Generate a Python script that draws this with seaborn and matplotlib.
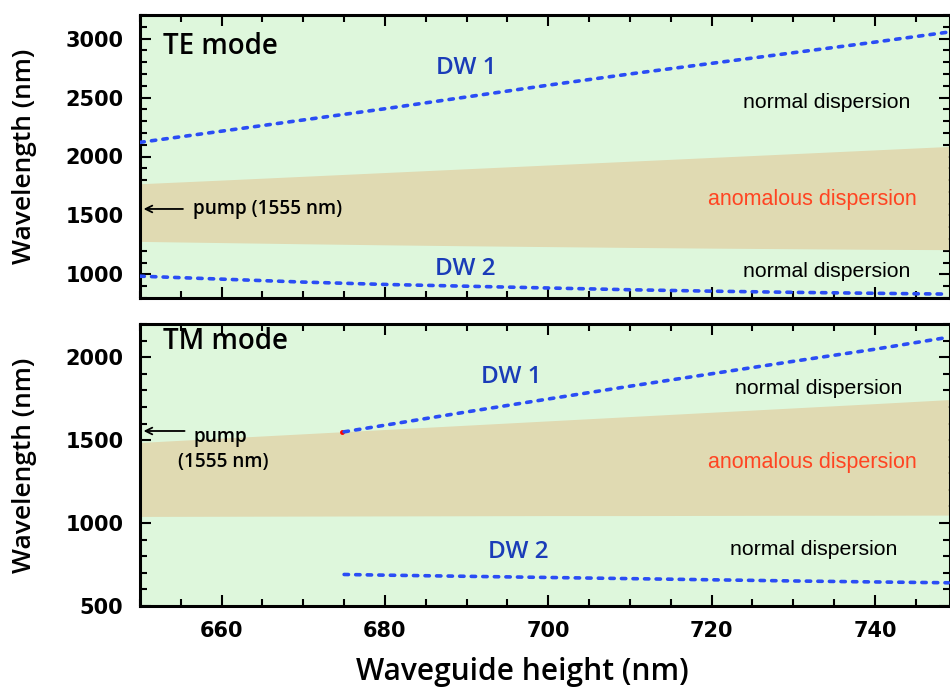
import numpy as np
import pandas as pd
import matplotlib
matplotlib.use("Agg")
import matplotlib.pyplot as plt
import seaborn as sns

# ---------------- data ----------------
te_h = [650, 660, 670, 680, 690, 700, 710, 720, 730, 740, 749]
te_dw1 = [2120, 2215, 2310, 2405, 2505, 2605, 2700, 2790, 2880, 2970, 3055]
te_dw2 = [985, 960, 935, 915, 900, 885, 870, 858, 848, 840, 833]
te_anom_upper = [1769, 1800, 1832, 1864, 1896, 1928, 1960, 1992, 2024, 2056, 2085]
te_anom_lower = [1280, 1270, 1260, 1251, 1243, 1236, 1229, 1223, 1218, 1213, 1210]

tm_h_band = [650, 660, 670, 680, 690, 700, 710, 720, 730, 740, 749]
tm_anom_upper = [1486, 1512, 1538, 1564, 1590, 1616, 1642, 1668, 1694, 1720, 1744]
tm_anom_lower = [1040, 1041, 1042, 1043, 1044, 1045, 1045, 1046, 1047, 1047, 1048]

tm_h = [675, 680, 690, 700, 710, 720, 730, 740, 749]
tm_dw1 = [1550, 1590, 1670, 1748, 1825, 1900, 1975, 2048, 2120]
tm_dw2 = [690, 686, 679, 672, 665, 658, 651, 645, 640]

pump_nm = 1555
xticks = [660, 680, 700, 720, 740]

# ---------------- style ----------------
sns.set_theme(style="ticks")
plt.rcParams['font.family'] = ['Liberation Sans', 'DejaVu Sans']
plt.rcParams['text.color'] = 'black'
plt.rcParams['axes.labelcolor'] = 'black'
plt.rcParams['xtick.color'] = 'black'
plt.rcParams['ytick.color'] = 'black'
plt.rcParams['xtick.labelcolor'] = 'black'
plt.rcParams['ytick.labelcolor'] = 'black'

GREEN = "#DEF7DC"
TAN = "#E0DAB2"
BLUE = "#2A4DF5"
LABBLUE = "#1A3CB8"
ORANGE = "#FF4422"
LABFONT = ['Open Sans', 'DejaVu Sans']
TICKFONT = ['DejaVu Sans']

fig = plt.figure(figsize=(9.5, 6.88), dpi=100)
ax1 = fig.add_axes([140/950, 1-298/688, 810/950, 283/688])
ax2 = fig.add_axes([140/950, 1-606/688, 810/950, 282/688])

te_df = pd.DataFrame({"h": te_h, "dw1": te_dw1, "dw2": te_dw2})
tm_df = pd.DataFrame({"h": tm_h, "dw1": tm_dw1, "dw2": tm_dw2})

DASH = (0, (1.2, 2.0))

for ax in (ax1, ax2):
    ax.set_facecolor(GREEN)

ax1.fill_between(te_h, te_anom_lower, te_anom_upper, color=TAN, lw=0, zorder=1)
ax2.fill_between(tm_h_band, tm_anom_lower, tm_anom_upper, color=TAN, lw=0, zorder=1)

for col in ("dw1", "dw2"):
    sns.lineplot(data=te_df, x="h", y=col, ax=ax1, legend=False, zorder=3,
                 color=BLUE, linewidth=2.6, linestyle=DASH, dash_capstyle='round')
    sns.lineplot(data=tm_df, x="h", y=col, ax=ax2, legend=False, zorder=3,
                 color=BLUE, linewidth=2.6, linestyle=DASH, dash_capstyle='round')

ax2.plot([tm_h[0] - 0.2], [tm_dw1[0] - 3], marker='o', ms=3.5, color='red', mec='none', zorder=2)

ax1.set_ylim(800, 3200)
ax2.set_ylim(500, 2200)
for ax in (ax1, ax2):
    ax.set_xlim(650, 749.2)
    ax.set_xticks(xticks)
    ax.set_xticks(np.arange(650, 750, 5), minor=True)
    ax.tick_params(which='both', direction='in', top=True, right=True, width=1.5, color='black')
    ax.tick_params(which='major', length=8)
    ax.tick_params(which='minor', length=5)
    ax.tick_params(axis='y', which='major', labelsize=15, pad=12)
    ax.tick_params(axis='x', which='major', labelsize=15, pad=11)
    for s in ax.spines.values():
        s.set_linewidth(2.2)
        s.set_color('black')
    ax.set_xlabel("")

ax1.set_yticks([1000, 1500, 2000, 2500, 3000])
ax1.set_yticks(np.arange(800, 3201, 100), minor=True)
ax2.set_yticks([500, 1000, 1500, 2000])
ax2.set_yticks(np.arange(500, 2201, 100), minor=True)
ax1.tick_params(axis='x', labelbottom=False)

for ax in (ax1, ax2):
    for lab in ax.get_xticklabels() + ax.get_yticklabels():
        lab.set_fontfamily(TICKFONT)
        lab.set_fontweight('bold')
    ax.set_ylabel("Wavelength (nm)", fontsize=19, fontfamily=LABFONT, fontweight='semibold', color='black')
    ax.yaxis.set_label_coords(-0.127, 0.5)
ax2.set_xlabel("Waveguide height (nm)", fontsize=21.5, fontfamily=LABFONT, fontweight='semibold', color='black')
ax2.xaxis.set_label_coords(0.4716, -0.235)
ax2.xaxis.label.set_va('center')

# ---------------- annotations ----------------
ND = 15.3
ax1.text(652.8, 2935, "TE mode", fontsize=20, fontfamily=LABFONT, fontweight='semibold', va='center', ha='left')
ax1.text(689.9, 2748, "DW 1", fontsize=17.5, fontfamily=LABFONT, fontweight='semibold', color=LABBLUE, va='center', ha='center')
ax1.text(689.8, 1042, "DW 2", fontsize=17.5, fontfamily=LABFONT, fontweight='semibold', color=LABBLUE, va='center', ha='center')
ax1.text(744.3, 2459, "normal dispersion", fontsize=ND, va='center', ha='right')
ax1.text(745.1, 1636, "anomalous dispersion", fontsize=15.5, color=ORANGE, va='center', ha='right')
ax1.text(744.3, 1025, "normal dispersion", fontsize=ND, va='center', ha='right')
ax1.annotate("", xy=(650.1, pump_nm), xytext=(655.6, pump_nm),
             arrowprops=dict(arrowstyle='->', color='black', lw=1.3))
ax1.text(656.5, pump_nm, "pump (1555 nm)", fontsize=13.7, fontfamily=LABFONT, fontweight='semibold', va='center', ha='left')

ax2.text(652.8, 2095, "TM mode", fontsize=20, fontfamily=LABFONT, fontweight='semibold', va='center', ha='left')
ax2.text(695.5, 1883, "DW 1", fontsize=17.5, fontfamily=LABFONT, fontweight='semibold', color=LABBLUE, va='center', ha='center')
ax2.text(696.3, 827, "DW 2", fontsize=17.5, fontfamily=LABFONT, fontweight='semibold', color=LABBLUE, va='center', ha='center')
ax2.text(743.4, 1811, "normal dispersion", fontsize=ND, va='center', ha='right')
ax2.text(745.1, 1364, "anomalous dispersion", fontsize=15.5, color=ORANGE, va='center', ha='right')
ax2.text(742.7, 839, "normal dispersion", fontsize=ND, va='center', ha='right')
ax2.annotate("", xy=(650.1, pump_nm), xytext=(655.8, pump_nm),
             arrowprops=dict(arrowstyle='->', color='black', lw=1.3))
ax2.text(656.5, 1521, "pump", fontsize=13.7, fontfamily=LABFONT, fontweight='semibold', va='center', ha='left')
ax2.text(654.6, 1370, "(1555 nm)", fontsize=13.7, fontfamily=LABFONT, fontweight='semibold', va='center', ha='left')

fig.savefig("out.png", dpi=100)
